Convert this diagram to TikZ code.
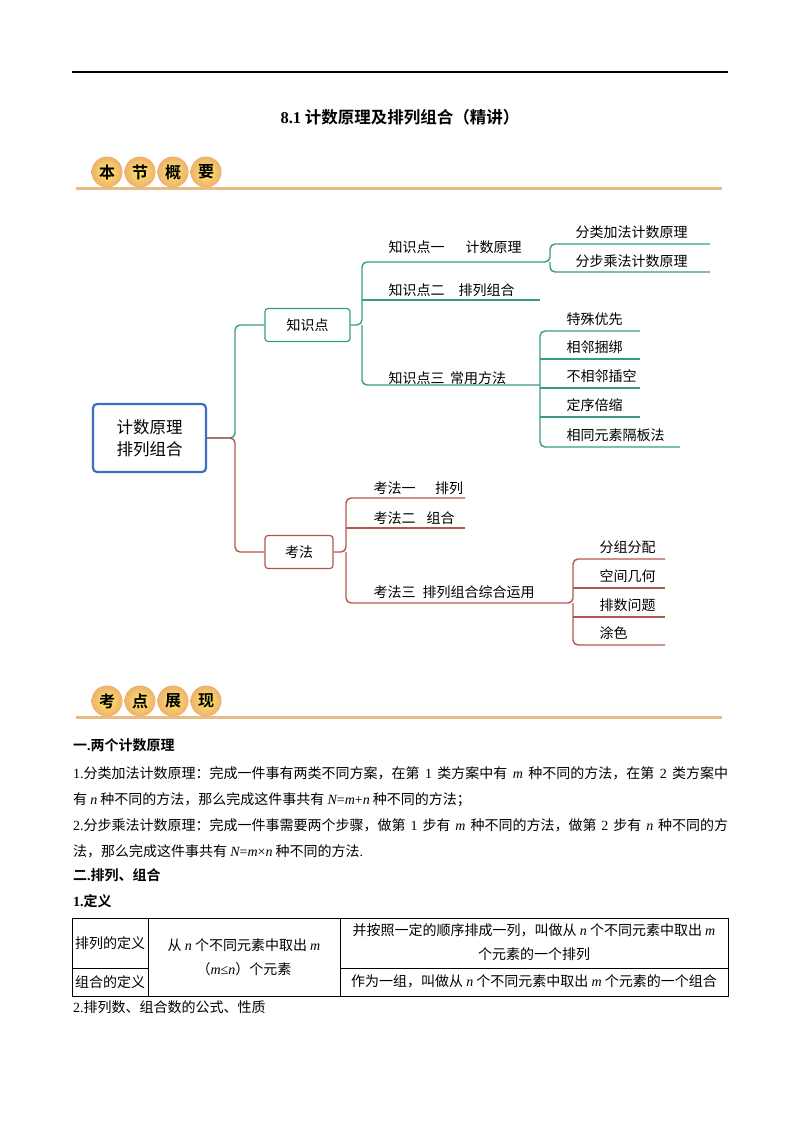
\documentclass[tikz,border=0pt]{standalone}
\usepackage{fontspec}
\setmainfont{Noto Sans CJK SC}[BoldFont={Noto Sans CJK SC Bold}]
\newfontfamily\lat{Liberation Serif}
\XeTeXlinebreaklocale "zh"
\XeTeXlinebreakskip=0pt plus 3pt
\newcommand{\mv}[1]{{\lat\itshape #1}}
\newcommand{\fullln}[1]{{\spaceskip=4pt plus 0.3pt\hbox to 655pt{#1}}}
\definecolor{teal1}{HTML}{3A9A8A}
\definecolor{red1}{HTML}{B0584F}
\definecolor{blue1}{HTML}{3B6FC2}
\definecolor{org}{HTML}{EDB06E}
\definecolor{orgl}{HTML}{E9BC86}
\tikzset{
 x=1pt,y=-1pt,
 badge/.style={circle,minimum size=31pt,inner sep=0pt,shade,inner color=orange!25!yellow!60,outer color=org,font=\bfseries\fontsize{16}{16}\selectfont},
 mm/.style={font=\fontsize{14}{16}\selectfont,anchor=base west},
 tbox/.style={draw=teal1,line width=1.2pt,rounded corners=3pt,minimum width=85pt,minimum height=33pt,font=\fontsize{14}{16}\selectfont},
 rbox/.style={draw=red1,line width=1.2pt,rounded corners=3pt,minimum width=68pt,minimum height=33pt,font=\fontsize{14}{16}\selectfont},
 tl/.style={teal1,line width=1.4pt,rounded corners=5pt},
 rl/.style={red1,line width=1.4pt,rounded corners=5pt},
 body/.style={font=\fontsize{14}{16}\selectfont,anchor=base west,inner sep=0pt},
 cell/.style={font=\fontsize{14}{24}\selectfont,align=center,inner sep=0pt},
}
\begin{document}
\begin{tikzpicture}
\useasboundingbox (0,0) rectangle (800,1132);
\draw[line width=1.2pt] (72,72) -- (728,72);
\node[font=\bfseries\fontsize{16.5}{16}\selectfont] (title) at (400,117) {{\lat\bfseries 8.1} 计数原理及排列组合（精讲）};
% badges
\draw[orgl,line width=3pt] (76,188) -- (722,188);
\foreach \t [count=\i] in {本,节,概,要} \node[badge] (b\i) at (74+33*\i,172) {\t};
\draw[orgl,line width=3pt] (76,717) -- (722,717);
\foreach \t [count=\i] in {考,点,展,现} \node[badge] (c\i) at (74+33*\i,701) {\t};
% mindmap
\node[draw=blue1,line width=2.2pt,rounded corners=4pt,minimum width=113pt,minimum height=68pt,align=center,font=\fontsize{16.5}{22}\selectfont] (root) at (149.5,438) {计数原理\\排列组合};
\node[tbox] (zsd) at (307.5,325) {知识点};
\node[rbox] (kf) at (299,552) {考法};
\draw[tl] (root.east) -- (235,438) -- (235,325) -- (zsd.west);
\draw[rl] (root.east) -- (235,438) -- (235,552) -- (kf.west);
% knowledge branch
\coordinate (k1) at (540,262); \coordinate (k2) at (540,300); \coordinate (k3) at (540,385);
\draw[tl] (zsd.east) -- (362,325) -- (362,262) -- (k1);
\draw[tl] (362,300) -- (k2);
\draw[tl] (362,325) -- (362,385) -- (k3);
\node[mm] (t1) at (385,252) {知识点一\hspace{1.5em}计数原理};
\node[mm] (t2) at (385,295) {知识点二\hspace{1em}排列组合};
\node[mm] (t3) at (385,383) {知识点三\hspace{0.4em}常用方法};
\coordinate (a1) at (710,244); \coordinate (a2) at (710,272);
\draw[tl] (k1) -- (550,262) -- (550,244) -- (a1);
\draw[tl] (550,262) -- (550,272) -- (a2);
\node[mm] (ta1) at (572,237) {分类加法计数原理};
\node[mm] (ta2) at (572,266) {分步乘法计数原理};
\foreach \y/\e/\t [count=\i] in {331/640/特殊优先,359/640/相邻捆绑,388/640/不相邻插空,417/640/定序倍缩,447/680/相同元素隔板法}{
 \coordinate (m\i) at (\e,\y);
 \node[mm] (tm\i) at (563,\y-7) {\t};
}
\draw[tl] (m1) -- (540,331) -- (540,447) -- (m5);
\foreach \i/\y in {2/359,3/388,4/417} \draw[tl] (540,\y) -- (m\i);
% kaofa branch
\coordinate (f1) at (465,498); \coordinate (f2) at (465,528); \coordinate (f3) at (562,603);
\draw[rl] (kf.east) -- (346,552) -- (346,498) -- (f1);
\draw[rl] (346,528) -- (f2);
\draw[rl] (346,552) -- (346,603) -- (f3);
\node[mm] (tf1) at (370,493) {考法一\hspace{1.4em}排列};
\node[mm] (tf2) at (370,523) {考法二\hspace{0.8em}组合};
\node[mm] (tf3) at (370,597) {考法三\hspace{0.5em}排列组合综合运用};
\foreach \y/\t [count=\i] in {559/分组分配,588/空间几何,617/排数问题,645/涂色}{
 \coordinate (g\i) at (665,\y);
 \node[mm] (tg\i) at (596,\y-7) {\t};
}
\draw[rl] (f3) -- (573,603) -- (573,559) -- (g1);
\draw[rl] (573,603) -- (573,645) -- (g4);
\draw[rl] (573,588) -- (g2);
\draw[rl] (573,617) -- (g3);
% body text
\node[body,font=\bfseries\fontsize{14}{16}\selectfont] (h1) at (73,750) {一{\lat\bfseries .}两个计数原理};
\node[body] (l1) at (73,778) {\fullln{{\lat 1.}分类加法计数原理：完成一件事有两类不同方案，在第 {\lat 1} 类方案中有 \mv{m} 种不同的方法，在第 {\lat 2} 类方案中}};
\node[body] (l2) at (73,804) {有 \mv{n} 种不同的方法，那么完成这件事共有 \mv{N}{\lat =}\mv{m}{\lat +}\mv{n} 种不同的方法；};
\node[body] (l3) at (73,830) {\fullln{{\lat 2.}分步乘法计数原理：完成一件事需要两个步骤，做第 {\lat 1} 步有 \mv{m} 种不同的方法，做第 {\lat 2} 步有 \mv{n} 种不同的方}};
\node[body] (l4) at (73,856) {法，那么完成这件事共有 \mv{N}{\lat =}\mv{m}{\lat ×}\mv{n} 种不同的方法{\lat .}};
\node[body,font=\bfseries\fontsize{14}{16}\selectfont] (h2) at (73,880) {二{\lat\bfseries .}排列、组合};
\node[body,font=\bfseries\fontsize{14}{16}\selectfont] (h3) at (73,906) {{\lat\bfseries 1.}定义};
% table
\draw[line width=1pt] (72,918) rectangle (728,996);
\draw[line width=0.8pt] (72,968) -- (148,968) (340,968) -- (728,968);
\draw[line width=0.8pt] (148,918) -- (148,996) (340,918) -- (340,996);
\node[cell] (c11) at (110,943) {排列的定义};
\node[cell] (c21) at (110,982) {组合的定义};
\node[cell] (c12) at (244,957) {从 \mv{n} 个不同元素中取出 \mv{m}\\（\mv{m}{\lat ≤}\mv{n}）个元素};
\node[cell] (c13) at (534,942) {并按照一定的顺序排成一列，叫做从 \mv{n} 个不同元素中取出 \mv{m}\\个元素的一个排列};
\node[cell] (c23) at (534,981) {作为一组，叫做从 \mv{n} 个不同元素中取出 \mv{m} 个元素的一个组合};
\node[body] (l5) at (73,1012) {{\lat 2.}排列数、组合数的公式、性质};
\end{tikzpicture}
\end{document}
